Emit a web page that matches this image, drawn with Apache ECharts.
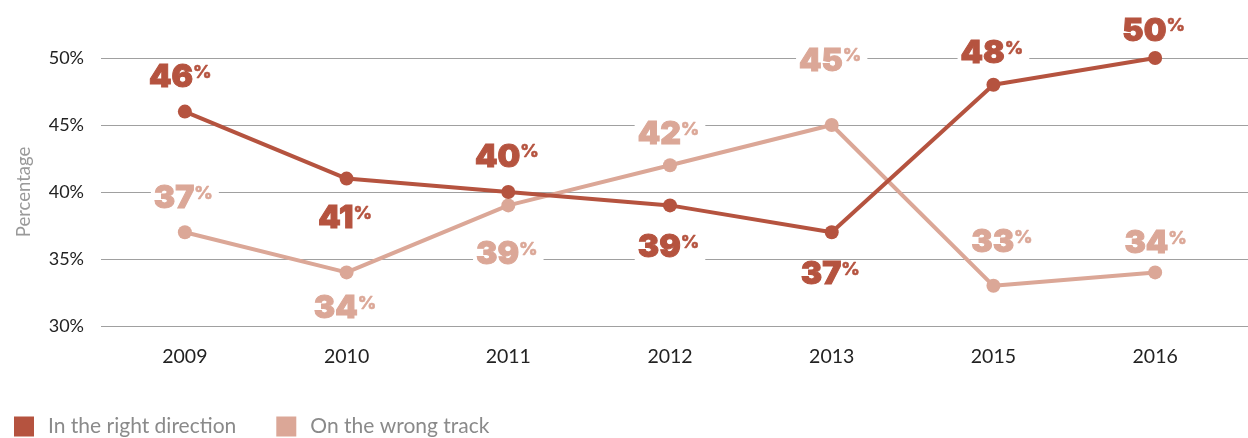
<!DOCTYPE html>
<html>
<head>
<meta charset="utf-8">
<style>
  html, body { margin: 0; padding: 0; background: #fff; }
  #chart { width: 1248px; height: 438px; }
</style>
<script src="https://cdn.jsdelivr.net/npm/echarts@6/dist/echarts.min.js"></script>
</head>
<body>
<div id="chart"></div>
<script>
// Survey years and share of respondents (%)
const years = ['2009', '2010', '2011', '2012', '2013', '2015', '2016'];
const rightDirection = [46, 41, 40, 39, 37, 48, 50];
const wrongTrack = [37, 34, 39, 42, 45, 33, 34];
const seriesNames = ['In the right direction', 'On the wrong track'];
const yMin = 30, yMax = 50, yStep = 5;

// Nudge of each value label relative to its point (px): vertical, then horizontal
const rightLabelShift = [-34, 40, -35, 42, 42, -31, -27];
const wrongLabelShift = [-34, 36, 49, -31, -64, -43, -29];
const rightLabelShiftX = [-3, 0, 0, 0, 0, 0, 0];
const wrongLabelShiftX = [0, 0, 0, 0, 0, 10, 2];

const DARK = '#b5533f';
const LIGHT = '#dba797';
const FONT = 'Lato, "Open Sans", sans-serif';
const NUM_FONT = 'Inter, Lato, sans-serif';

function labelled(values, shifts, shiftsX) {
  return values.map((v, i) => ({
    value: v,
    label: { offset: [shiftsX[i], shifts[i]] }
  }));
}

function seriesDef(name, values, shifts, shiftsX, color, z) {
  return {
    name: name,
    type: 'line',
    xAxisIndex: 1,
    yAxisIndex: 1,
    data: labelled(values, shifts, shiftsX),
    z: z,
    symbol: 'circle',
    symbolSize: 14,
    lineStyle: { color: color, width: 4 },
    itemStyle: { color: color },
    emphasis: { disabled: true },
    label: {
      show: true,
      position: 'inside',
      formatter: p => '{n|' + p.value + '}{p|%}',
      backgroundColor: '#fff',
      padding: [0, 6, 0, 3],
      rich: {
        n: {
          fontFamily: NUM_FONT, fontWeight: 900, fontSize: 32, color: color, lineHeight: 28,
          textBorderColor: color, textBorderWidth: 1
        },
        p: {
          fontFamily: NUM_FONT, fontWeight: 800, fontSize: 18, color: color, verticalAlign: 'top', lineHeight: 19,
          textBorderColor: color, textBorderWidth: 0.5
        }
      }
    }
  };
}

const chart = echarts.init(document.getElementById('chart'), null, { renderer: 'canvas' });
chart.setOption({
  animation: false,
  backgroundColor: '#fff',
  // grid 0 carries the full-width gridlines and y labels; grid 1 carries the plotted years
  grid: [
    { left: 101, right: 0, top: 58, bottom: 112 },
    { left: 104, right: 12, top: 58, bottom: 112 }
  ],
  legend: {
    left: 14,
    bottom: 1,
    padding: 0,
    itemWidth: 20,
    itemHeight: 20,
    itemGap: 40,
    icon: 'rect',
    data: seriesNames,
    textStyle: { fontFamily: FONT, fontSize: 21, color: '#8a8a8a', padding: [0, 0, 0, 9] }
  },
  xAxis: [
    { type: 'category', gridIndex: 0, data: years, show: false },
    {
      type: 'category',
      gridIndex: 1,
      data: years,
      boundaryGap: true,
      axisLine: { show: false },
      axisTick: { show: false },
      axisLabel: { fontFamily: FONT, fontSize: 19.5, color: '#222', margin: 21 }
    }
  ],
  yAxis: [
    {
      type: 'value',
      gridIndex: 0,
      min: yMin,
      max: yMax,
      interval: yStep,
      name: 'Percentage',
      nameLocation: 'middle',
      nameGap: 67,
      nameTextStyle: { fontFamily: FONT, fontSize: 18.5, color: '#9a9a9a' },
      axisLine: { show: false },
      axisTick: { show: false },
      axisLabel: { formatter: '{value}%', fontFamily: FONT, fontSize: 18, color: '#222', margin: 17 },
      splitLine: { lineStyle: { color: '#a0a0a0', width: 1.2 } }
    },
    {
      type: 'value',
      gridIndex: 1,
      min: yMin,
      max: yMax,
      interval: yStep,
      show: false,
      splitLine: { show: false }
    }
  ],
  series: [
    seriesDef(seriesNames[1], wrongTrack, wrongLabelShift, wrongLabelShiftX, LIGHT, 2),
    seriesDef(seriesNames[0], rightDirection, rightLabelShift, rightLabelShiftX, DARK, 3)
  ]
});
</script>
</body>
</html>
